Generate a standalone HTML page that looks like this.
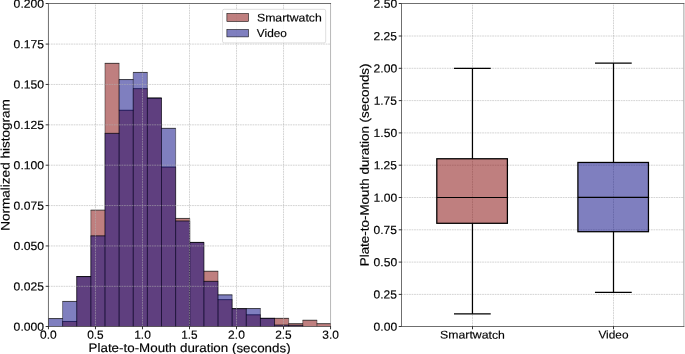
<!DOCTYPE html>
<html><head><meta charset="utf-8"><title>Plate-to-Mouth duration</title>
<style>html,body{margin:0;padding:0;background:#fff;}body{width:685px;height:354px;overflow:hidden;font-family:"Liberation Sans",sans-serif;}svg{display:block;position:absolute;left:0;top:0;will-change:transform;}svg.t{filter:grayscale(1);}</style>
</head><body>
<svg width="685" height="354" viewBox="0 0 685 354" font-family="'Liberation Sans', sans-serif" fill="#000">
<rect width="685" height="354" fill="#fff"/>
<clipPath id="c1"><rect x="48.45" y="3.5" width="282.10" height="323.00"/></clipPath>
<g clip-path="url(#c1)">
<path d="M62.58,326.5V321.45H76.71V326.5ZM76.71,326.5V276.55H90.84V326.5ZM90.84,326.5V210.15H104.97V326.5ZM104.97,326.5V63.35H119.10V326.5ZM119.10,326.5V110.25H133.23V326.5ZM133.23,326.5V88.65H147.36V326.5ZM147.36,326.5V98.05H161.49V326.5ZM161.49,326.5V167.05H175.62V326.5ZM175.62,326.5V218.45H189.75V326.5ZM189.75,326.5V242.45H203.88V326.5ZM203.88,326.5V271.25H218.01V326.5ZM218.01,326.5V299.65H232.14V326.5ZM232.14,326.5V308.65H246.27V326.5ZM246.27,326.5V314.80H260.40V326.5ZM260.40,326.5V318.35H274.53V326.5ZM274.53,326.5V318.35H288.66V326.5ZM288.66,326.5V323.65H302.79V326.5ZM302.79,326.5V320.25H316.92V326.5ZM316.92,326.5V323.65H331.05V326.5Z" fill="#800000" fill-opacity="0.5" stroke="none"/>
<path d="M62.58,326.5V321.45M76.71,326.5V276.55M90.84,326.5V210.15M104.97,326.5V63.35M119.10,326.5V63.35M133.23,326.5V88.65M147.36,326.5V88.65M161.49,326.5V98.05M175.62,326.5V167.05M189.75,326.5V218.45M203.88,326.5V242.45M218.01,326.5V271.25M232.14,326.5V299.65M246.27,326.5V308.65M260.40,326.5V314.80M274.53,326.5V318.35M288.66,326.5V318.35M302.79,326.5V320.25M316.92,326.5V320.25M331.05,326.5V323.65" fill="none" stroke="#000" stroke-width="0.42"/>
<path d="M62.38,321.45H76.91M76.51,276.55H91.04M90.64,210.15H105.17M104.77,63.35H119.30M118.90,110.25H133.43M133.03,88.65H147.56M147.16,98.05H161.69M161.29,167.05H175.82M175.42,218.45H189.95M189.55,242.45H204.08M203.68,271.25H218.21M217.81,299.65H232.34M231.94,308.65H246.47M246.07,314.80H260.60M260.20,318.35H274.73M274.33,318.35H288.86M288.46,323.65H302.99M302.59,320.25H317.12M316.72,323.65H331.25" fill="none" stroke="#000" stroke-width="0.7"/>
<path d="M48.45,326.5V318.55H62.58V326.5ZM62.58,326.5V301.45H76.71V326.5ZM76.71,326.5V276.55H90.84V326.5ZM90.84,326.5V235.85H104.97V326.5ZM104.97,326.5V133.35H119.10V326.5ZM119.10,326.5V79.55H133.23V326.5ZM133.23,326.5V72.45H147.36V326.5ZM147.36,326.5V98.05H161.49V326.5ZM161.49,326.5V128.35H175.62V326.5ZM175.62,326.5V220.95H189.75V326.5ZM189.75,326.5V242.45H203.88V326.5ZM203.88,326.5V281.35H218.01V326.5ZM218.01,326.5V294.85H232.14V326.5ZM232.14,326.5V308.65H246.27V326.5ZM246.27,326.5V308.55H260.40V326.5ZM260.40,326.5V318.35H274.53V326.5ZM274.53,326.5V325.05H288.66V326.5ZM288.66,326.5V325.25H302.79V326.5Z" fill="#000080" fill-opacity="0.5" stroke="none"/>
<path d="M48.45,326.5V318.55M62.58,326.5V301.45M76.71,326.5V276.55M90.84,326.5V235.85M104.97,326.5V133.35M119.10,326.5V79.55M133.23,326.5V72.45M147.36,326.5V72.45M161.49,326.5V98.05M175.62,326.5V128.35M189.75,326.5V220.95M203.88,326.5V242.45M218.01,326.5V281.35M232.14,326.5V294.85M246.27,326.5V308.55M260.40,326.5V308.55M274.53,326.5V318.35M288.66,326.5V325.05M302.79,326.5V325.25" fill="none" stroke="#000" stroke-width="0.42"/>
<path d="M48.25,318.55H62.78M62.38,301.45H76.91M76.51,276.55H91.04M90.64,235.85H105.17M104.77,133.35H119.30M118.90,79.55H133.43M133.03,72.45H147.56M147.16,98.05H161.69M161.29,128.35H175.82M175.42,220.95H189.95M189.55,242.45H204.08M203.68,281.35H218.21M217.81,294.85H232.34M231.94,308.65H246.47M246.07,308.55H260.60M260.20,318.35H274.73M274.33,325.05H288.86M288.46,325.25H302.99" fill="none" stroke="#000" stroke-width="0.7"/>
</g>
<g stroke="#b0b0b0" stroke-width="0.55" stroke-dasharray="1.76 0.76" fill="none">
<line x1="95.47" y1="326.5" x2="95.47" y2="3.5"/>
<line x1="142.48" y1="326.5" x2="142.48" y2="3.5"/>
<line x1="189.50" y1="326.5" x2="189.50" y2="3.5"/>
<line x1="236.52" y1="326.5" x2="236.52" y2="3.5"/>
<line x1="283.53" y1="326.5" x2="283.53" y2="3.5"/>
<line x1="48.45" y1="286.32" x2="330.55" y2="286.32"/>
<line x1="48.45" y1="245.95" x2="330.55" y2="245.95"/>
<line x1="48.45" y1="205.57" x2="330.55" y2="205.57"/>
<line x1="48.45" y1="165.20" x2="330.55" y2="165.20"/>
<line x1="48.45" y1="124.83" x2="330.55" y2="124.83"/>
<line x1="48.45" y1="84.45" x2="330.55" y2="84.45"/>
<line x1="48.45" y1="44.08" x2="330.55" y2="44.08"/>
</g>
<g stroke="#000" stroke-width="0.8">
<line x1="48.45" y1="326.5" x2="48.45" y2="329.28"/>
<line x1="95.47" y1="326.5" x2="95.47" y2="329.28"/>
<line x1="142.48" y1="326.5" x2="142.48" y2="329.28"/>
<line x1="189.50" y1="326.5" x2="189.50" y2="329.28"/>
<line x1="236.52" y1="326.5" x2="236.52" y2="329.28"/>
<line x1="283.53" y1="326.5" x2="283.53" y2="329.28"/>
<line x1="330.55" y1="326.5" x2="330.55" y2="329.28"/>
<line x1="48.45" y1="326.50" x2="45.67" y2="326.50"/>
<line x1="48.45" y1="286.32" x2="45.67" y2="286.32"/>
<line x1="48.45" y1="245.95" x2="45.67" y2="245.95"/>
<line x1="48.45" y1="205.57" x2="45.67" y2="205.57"/>
<line x1="48.45" y1="165.20" x2="45.67" y2="165.20"/>
<line x1="48.45" y1="124.83" x2="45.67" y2="124.83"/>
<line x1="48.45" y1="84.45" x2="45.67" y2="84.45"/>
<line x1="48.45" y1="44.08" x2="45.67" y2="44.08"/>
<line x1="48.45" y1="3.50" x2="45.67" y2="3.50"/>
</g>
<path d="M330.55,3.5H48.45V326.5H330.55" fill="none" stroke="#000" stroke-opacity="0.9" stroke-width="0.63" stroke-linecap="square"/>
<line x1="330.55" y1="3.5" x2="330.55" y2="326.5" stroke="#000" stroke-opacity="0.45" stroke-width="0.63"/>
<rect x="222.5" y="9.3" width="103.2" height="33.6" rx="1.7" ry="1.7" fill="#fff" fill-opacity="0.8" stroke="#ccc" stroke-opacity="0.8" stroke-width="0.79"/>
<rect x="226.9" y="13.5" width="21.6" height="8" fill="#800000" fill-opacity="0.5" stroke="#000" stroke-width="0.55"/>
<rect x="226.9" y="29.5" width="21.6" height="7.4" fill="#000080" fill-opacity="0.5" stroke="#000" stroke-width="0.55"/>
<g stroke="#b0b0b0" stroke-width="0.55" stroke-dasharray="1.76 0.76" fill="none">
<line x1="472.50" y1="326.5" x2="472.50" y2="3.5"/>
<line x1="613.50" y1="326.5" x2="613.50" y2="3.5"/>
<line x1="401.5" y1="294.40" x2="683.9" y2="294.40"/>
<line x1="401.5" y1="262.10" x2="683.9" y2="262.10"/>
<line x1="401.5" y1="229.80" x2="683.9" y2="229.80"/>
<line x1="401.5" y1="197.50" x2="683.9" y2="197.50"/>
<line x1="401.5" y1="165.20" x2="683.9" y2="165.20"/>
<line x1="401.5" y1="132.90" x2="683.9" y2="132.90"/>
<line x1="401.5" y1="100.60" x2="683.9" y2="100.60"/>
<line x1="401.5" y1="68.30" x2="683.9" y2="68.30"/>
<line x1="401.5" y1="36.00" x2="683.9" y2="36.00"/>
</g>
<rect x="436.8" y="158.75" width="70.60" height="64.55" fill="#800000" fill-opacity="0.5" stroke="none"/>
<rect x="577.9" y="162.45" width="70.55" height="69.25" fill="#000080" fill-opacity="0.5" stroke="none"/>
<g stroke="#000" stroke-width="1.25" fill="none" stroke-linecap="square">
<rect x="436.8" y="158.75" width="70.60" height="64.55" stroke-linejoin="miter"/>
<line x1="472.45" y1="223.3" x2="472.45" y2="313.85" stroke-linecap="butt"/>
<line x1="472.45" y1="158.75" x2="472.45" y2="68.4" stroke-linecap="butt"/>
<line x1="454.6" y1="313.85" x2="490.1" y2="313.85"/>
<line x1="454.6" y1="68.4" x2="490.1" y2="68.4"/>
<line x1="436.8" y1="197.45" x2="507.4" y2="197.45" stroke-linecap="butt" stroke-width="1.1"/>
<rect x="577.9" y="162.45" width="70.55" height="69.25" stroke-linejoin="miter"/>
<line x1="613.5" y1="231.7" x2="613.5" y2="292.25" stroke-linecap="butt"/>
<line x1="613.5" y1="162.45" x2="613.5" y2="63.2" stroke-linecap="butt"/>
<line x1="595.6" y1="292.25" x2="631.1" y2="292.25"/>
<line x1="595.6" y1="63.2" x2="631.1" y2="63.2"/>
<line x1="577.9" y1="197.4" x2="648.45" y2="197.4" stroke-linecap="butt" stroke-width="1.1"/>
</g>
<g stroke="#000" stroke-width="0.8">
<line x1="472.50" y1="326.5" x2="472.50" y2="329.28"/>
<line x1="613.50" y1="326.5" x2="613.50" y2="329.28"/>
<line x1="401.5" y1="326.50" x2="398.72" y2="326.50"/>
<line x1="401.5" y1="294.40" x2="398.72" y2="294.40"/>
<line x1="401.5" y1="262.10" x2="398.72" y2="262.10"/>
<line x1="401.5" y1="229.80" x2="398.72" y2="229.80"/>
<line x1="401.5" y1="197.50" x2="398.72" y2="197.50"/>
<line x1="401.5" y1="165.20" x2="398.72" y2="165.20"/>
<line x1="401.5" y1="132.90" x2="398.72" y2="132.90"/>
<line x1="401.5" y1="100.60" x2="398.72" y2="100.60"/>
<line x1="401.5" y1="68.30" x2="398.72" y2="68.30"/>
<line x1="401.5" y1="36.00" x2="398.72" y2="36.00"/>
<line x1="401.5" y1="3.50" x2="398.72" y2="3.50"/>
</g>
<path d="M683.9,3.5H401.5V326.5H683.9" fill="none" stroke="#000" stroke-opacity="0.9" stroke-width="0.63" stroke-linecap="square"/>
<line x1="683.9" y1="3.5" x2="683.9" y2="326.5" stroke="#000" stroke-opacity="0.6" stroke-width="0.63"/>
</svg>
<svg class="t" width="685" height="354" viewBox="0 0 685 354" font-family="'Liberation Sans', sans-serif" fill="#000"><text transform="translate(40.11,338.75) rotate(0.03) scale(1.1113,1.0900)" font-size="10.8px" stroke="#000" stroke-width="0.15" >0.0</text>
<text transform="translate(87.13,338.75) rotate(0.03) scale(1.0978,1.0900)" font-size="10.8px" stroke="#000" stroke-width="0.15" >0.5</text>
<text transform="translate(134.17,338.75) rotate(0.03) scale(1.1090,1.0900)" font-size="10.8px" stroke="#000" stroke-width="0.15" >1.0</text>
<text transform="translate(181.20,338.75) rotate(0.03) scale(1.0951,1.0900)" font-size="10.8px" stroke="#000" stroke-width="0.15" >1.5</text>
<text transform="translate(228.11,338.75) rotate(0.03) scale(1.1153,1.0900)" font-size="10.8px" stroke="#000" stroke-width="0.15" >2.0</text>
<text transform="translate(275.14,338.75) rotate(0.03) scale(1.1017,1.0900)" font-size="10.8px" stroke="#000" stroke-width="0.15" >2.5</text>
<text transform="translate(322.33,338.75) rotate(0.03) scale(1.1028,1.0900)" font-size="10.8px" stroke="#000" stroke-width="0.15" >3.0</text>
<text transform="translate(13.62,330.65) rotate(0.03) scale(1.1267,1.0900)" font-size="10.8px" stroke="#000" stroke-width="0.15" >0.000</text>
<text transform="translate(13.62,290.47) rotate(0.03) scale(1.1194,1.0900)" font-size="10.8px" stroke="#000" stroke-width="0.15" >0.025</text>
<text transform="translate(13.62,250.10) rotate(0.03) scale(1.1267,1.0900)" font-size="10.8px" stroke="#000" stroke-width="0.15" >0.050</text>
<text transform="translate(13.62,209.72) rotate(0.03) scale(1.1194,1.0900)" font-size="10.8px" stroke="#000" stroke-width="0.15" >0.075</text>
<text transform="translate(13.62,169.35) rotate(0.03) scale(1.1267,1.0900)" font-size="10.8px" stroke="#000" stroke-width="0.15" >0.100</text>
<text transform="translate(13.62,128.97) rotate(0.03) scale(1.1194,1.0900)" font-size="10.8px" stroke="#000" stroke-width="0.15" >0.125</text>
<text transform="translate(13.62,88.60) rotate(0.03) scale(1.1267,1.0900)" font-size="10.8px" stroke="#000" stroke-width="0.15" >0.150</text>
<text transform="translate(13.62,48.23) rotate(0.03) scale(1.1194,1.0900)" font-size="10.8px" stroke="#000" stroke-width="0.15" >0.175</text>
<text transform="translate(13.62,7.65) rotate(0.03) scale(1.1267,1.0900)" font-size="10.8px" stroke="#000" stroke-width="0.15" >0.200</text>
<text transform="translate(88.60,352.05) rotate(0.03) scale(1.1240,1.0350)" font-size="11.9px" stroke="#000" stroke-width="0.15" >Plate-to-Mouth duration (seconds)</text>
<text transform="translate(9.45,229.70) rotate(-90.03) translate(-1.11,0) scale(1.1388,1.0350)" font-size="11.9px" stroke="#000" stroke-width="0.15" >Normalized histogram</text>
<text transform="translate(256.96,21.45) rotate(0.03) scale(1.1377,1.0350)" font-size="10.8px" stroke="#000" stroke-width="0.15" >Smartwatch</text>
<text transform="translate(256.84,37.10) rotate(0.03) scale(1.0987,1.0350)" font-size="10.8px" stroke="#000" stroke-width="0.15" >Video</text>
<text transform="translate(373.59,330.65) rotate(0.03) scale(1.1210,1.0900)" font-size="10.8px" stroke="#000" stroke-width="0.15" >0.00</text>
<text transform="translate(373.60,298.55) rotate(0.03) scale(1.1115,1.0900)" font-size="10.8px" stroke="#000" stroke-width="0.15" >0.25</text>
<text transform="translate(373.59,266.25) rotate(0.03) scale(1.1210,1.0900)" font-size="10.8px" stroke="#000" stroke-width="0.15" >0.50</text>
<text transform="translate(373.60,233.95) rotate(0.03) scale(1.1115,1.0900)" font-size="10.8px" stroke="#000" stroke-width="0.15" >0.75</text>
<text transform="translate(373.62,201.65) rotate(0.03) scale(1.1196,1.0900)" font-size="10.8px" stroke="#000" stroke-width="0.15" >1.00</text>
<text transform="translate(373.63,169.35) rotate(0.03) scale(1.1100,1.0900)" font-size="10.8px" stroke="#000" stroke-width="0.15" >1.25</text>
<text transform="translate(373.62,137.05) rotate(0.03) scale(1.1196,1.0900)" font-size="10.8px" stroke="#000" stroke-width="0.15" >1.50</text>
<text transform="translate(373.63,104.75) rotate(0.03) scale(1.1100,1.0900)" font-size="10.8px" stroke="#000" stroke-width="0.15" >1.75</text>
<text transform="translate(373.53,72.45) rotate(0.03) scale(1.1239,1.0900)" font-size="10.8px" stroke="#000" stroke-width="0.15" >2.00</text>
<text transform="translate(373.54,40.15) rotate(0.03) scale(1.1143,1.0900)" font-size="10.8px" stroke="#000" stroke-width="0.15" >2.25</text>
<text transform="translate(373.53,7.65) rotate(0.03) scale(1.1239,1.0900)" font-size="10.8px" stroke="#000" stroke-width="0.15" >2.50</text>
<text transform="translate(440.09,338.60) rotate(0.03) scale(1.1377,1.0350)" font-size="10.8px" stroke="#000" stroke-width="0.15" >Smartwatch</text>
<text transform="translate(598.41,338.60) rotate(0.03) scale(1.0987,1.0350)" font-size="10.8px" stroke="#000" stroke-width="0.15" >Video</text>
<text transform="translate(368.75,265.20) rotate(-90.03) translate(-1.10,0) scale(1.1279,1.0350)" font-size="11.9px" stroke="#000" stroke-width="0.15" >Plate-to-Mouth duration (seconds)</text></svg>
</body></html>
